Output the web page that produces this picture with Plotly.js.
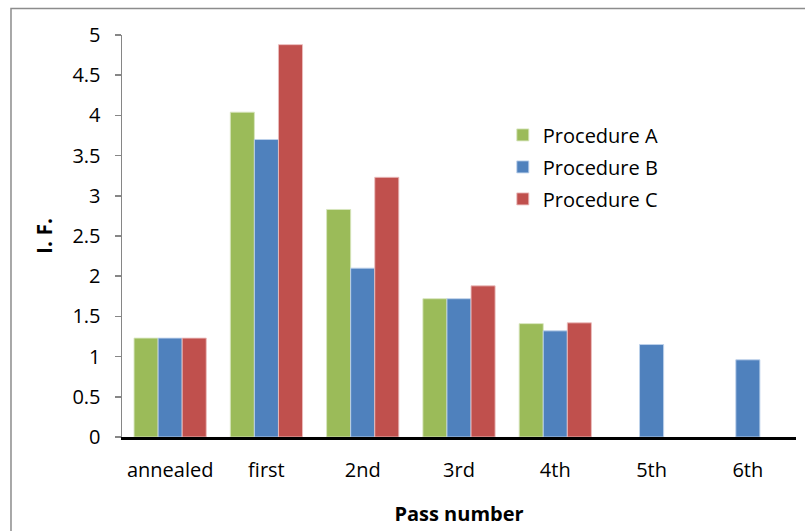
<!DOCTYPE html>
<html>
<head>
<meta charset="utf-8">
<script src="https://cdn.plot.ly/plotly-3.0.1.min.js"></script>
<style>
  html, body { margin: 0; padding: 0; background: #fff; }
  #chart { width: 805px; height: 531px; }
</style>
</head>
<body>
<div id="chart"></div>
<script>
// Intensity factor by pass number for three processing procedures
const passes = ['annealed', 'first', '2nd', '3rd', '4th', '5th', '6th'];
const procA = [1.23, 4.04, 2.83, 1.72, 1.41, null, null];
const procB = [1.23, 3.70, 2.10, 1.72, 1.32, 1.15, 0.96];
const procC = [1.23, 4.88, 3.23, 1.88, 1.42, null, null];
const yTicks = [0, 0.5, 1, 1.5, 2, 2.5, 3, 3.5, 4, 4.5, 5];

const FONT = 'Open Sans, Lato, sans-serif';

function series(name, y, color, edge) {
  return {
    type: 'bar', name: name, x: passes, y: y,
    marker: { color: color, line: { color: edge, width: 1 } },
    legendgroup: name, hoverinfo: 'x+y+name'
  };
}

const data = [
  series('Procedure A', procA, '#9BBB59', 'rgba(215,230,190,0.9)'),
  series('Procedure B', procB, '#4F81BD', 'rgba(190,210,235,0.9)'),
  series('Procedure C', procC, '#C0504D', 'rgba(235,190,190,0.9)')
];

const layout = {
  width: 805, height: 531,
  margin: { l: 122, r: 9, t: 35, b: 94 },
  paper_bgcolor: '#fff', plot_bgcolor: '#fff',
  font: { family: FONT, size: 20, color: '#000' },
  barmode: 'group', bargap: 0.25, bargroupgap: 0,
  showlegend: true,
  legend: {
    x: 0.565, y: 0.80, xanchor: 'left', yanchor: 'top',
    traceorder: 'grouped', tracegroupgap: 3,
    bgcolor: 'rgba(0,0,0,0)', font: { family: FONT, size: 20 },
    itemwidth: 30
  },
  xaxis: {
    type: 'category', categoryarray: passes,
    showline: true, linecolor: '#000', linewidth: 2.5,
    ticks: '', showgrid: false, zeroline: false,
    ticklabelstandoff: 13,
    tickfont: { family: FONT, size: 20 },
    title: { text: 'Pass number', font: { family: FONT, size: 20, weight: 'bold' }, standoff: 26 }
  },
  yaxis: {
    range: [0, 5], tickvals: yTicks, ticktext: yTicks.map(String),
    showline: true, linecolor: '#868686', linewidth: 1.5,
    ticks: 'outside', ticklen: 6, tickwidth: 1.5, tickcolor: '#868686',
    showgrid: false, zeroline: false,
    ticklabelstandoff: 10,
    tickfont: { family: FONT, size: 20 },
    title: { text: 'I. F.', font: { family: FONT, size: 21, weight: 'bold' }, standoff: 14 }
  },
  shapes: [{
    type: 'rect', xref: 'paper', yref: 'paper',
    x0: -0.1647, x1: 1.2, y0: -0.4, y1: 1.066,
    line: { color: '#8c8c8c', width: 1.5 }, fillcolor: 'rgba(0,0,0,0)', layer: 'below'
  }]
};

Plotly.newPlot('chart', data, layout, { staticPlot: true, displayModeBar: false });
</script>
</body>
</html>
